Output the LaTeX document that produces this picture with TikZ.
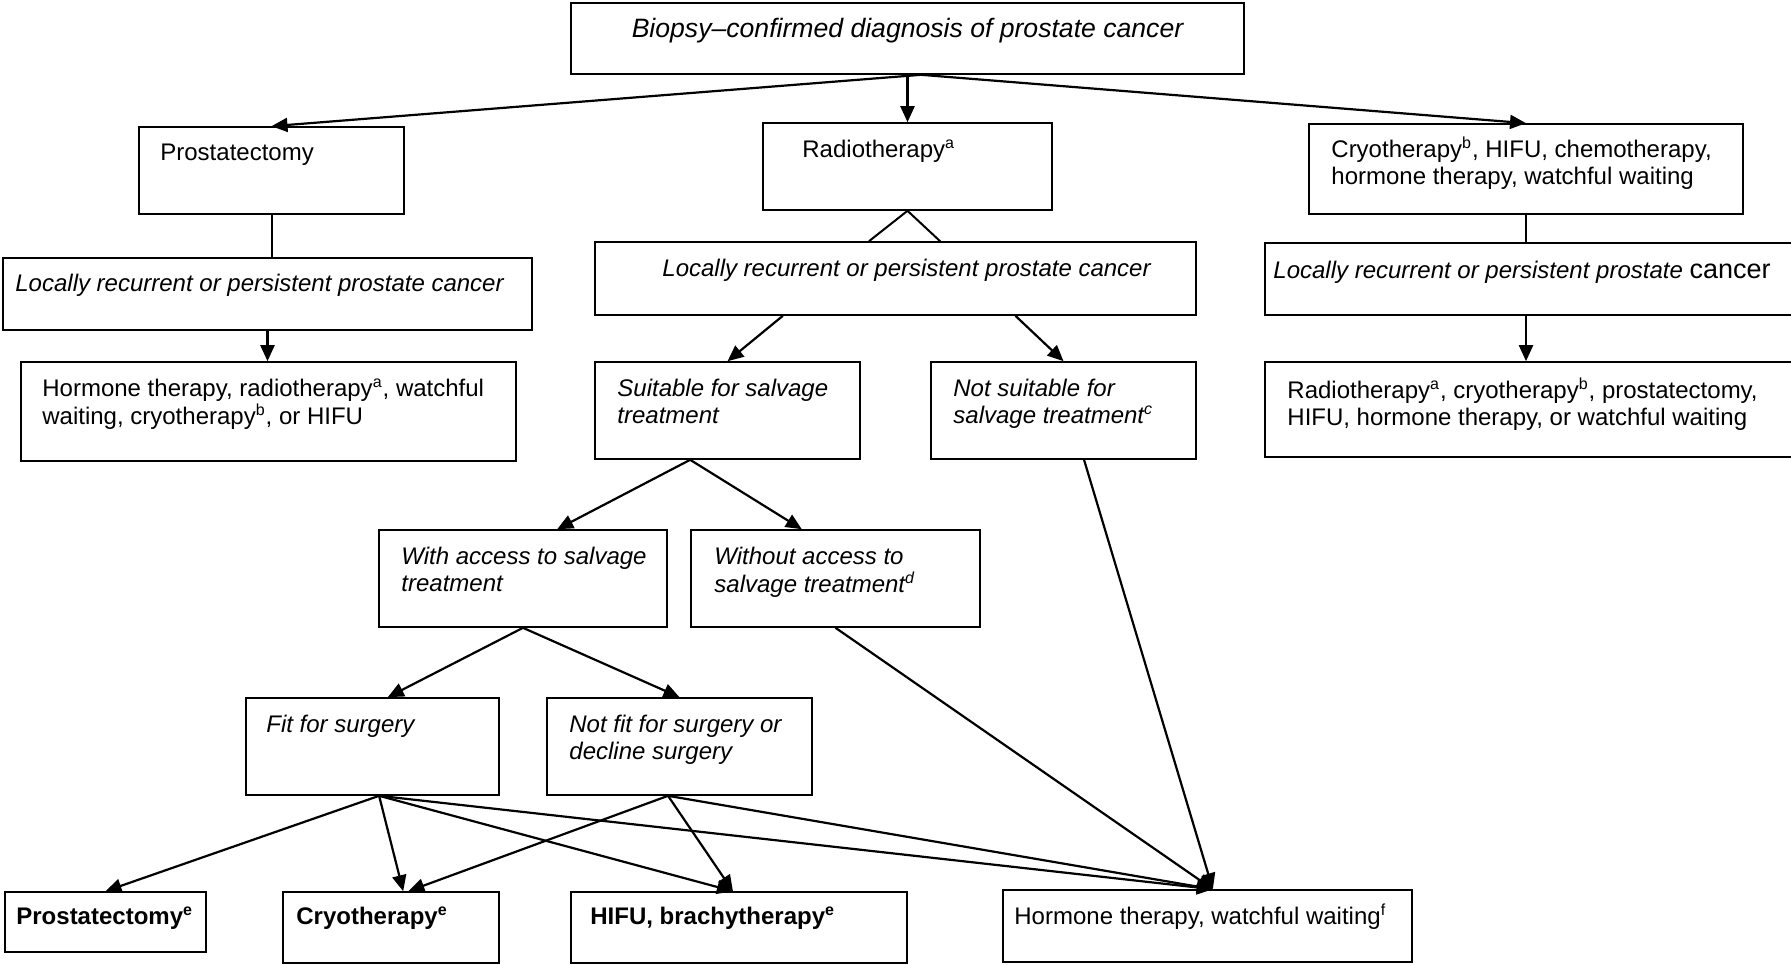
\documentclass[tikz,border=0pt]{standalone}
\usepackage{fontspec}
\setmainfont{Liberation Sans}
\usetikzlibrary{arrows.meta,calc,fit}

% two stacked lines whose baseline is the first line's
\newcommand\twoln[2]{\begin{tabular}[t]{@{}l@{}}#1\\#2\end{tabular}}

\begin{document}
\begin{tikzpicture}[x=0.5pt,y=-0.5pt,
  every node/.style={font=\fontsize{12}{13.8}\selectfont},
  box/.style={draw,line width=0.8pt,inner sep=0pt,rectangle},
  txt/.style={inner sep=0pt,anchor=base west},
  it/.style={font=\fontsize{12}{13.8}\selectfont\itshape},
  bf/.style={font=\fontsize{12}{13.8}\selectfont\bfseries},
  ln/.style={line width=1pt},
  arr/.style={line width=1.1pt,-{Triangle[length=8pt,width=7pt]}}]

\useasboundingbox (0,0) rectangle (1791,964);
\clip (0,0) rectangle (1791,964);

% ---- boxes ----
\node[box,fit={(571,3)(1244,74)}]      (T)   {};
\node[box,fit={(763,123)(1052,210)}]   (R)   {};
\node[box,fit={(139,127)(404,214)}]    (P)   {};
\node[box,fit={(1309,124)(1743,214)}]  (C)   {};
\node[box,fit={(3,258)(532,330)}]      (LL)  {};
\node[box,fit={(595,242)(1196,315)}]   (LM)  {};
\node[box,fit={(1265,243)(1800,315)}]  (LR)  {};
\node[box,fit={(21,362)(516,461)}]     (H1)  {};
\node[box,fit={(595,362)(860,459)}]    (S)   {};
\node[box,fit={(931,362)(1196,459)}]   (N)   {};
\node[box,fit={(1265,362)(1800,457)}]  (RR)  {};
\node[box,fit={(379,530)(667,627)}]    (W)   {};
\node[box,fit={(691,530)(980,627)}]    (Wo)  {};
\node[box,fit={(246,698)(499,795)}]    (Fit) {};
\node[box,fit={(547,698)(812,795)}]    (NF)  {};
\node[box,fit={(5,892)(206,952)}]      (PB)  {};
\node[box,fit={(283,892)(499,963)}]    (CB)  {};
\node[box,fit={(571,892)(907,963)}]    (HB)  {};
\node[box,fit={(1003,890)(1412,962)}]  (HT)  {};

% ---- texts ----
\node[inner sep=0pt,anchor=base,font=\fontsize{13.3}{15}\selectfont\itshape] (T-t) at (907.5,37)
  {Biopsy–confirmed diagnosis of prostate cancer};
\node[txt] (R-t) at (802,157) {Radiotherapy\textsuperscript{a}};
\node[txt] (P-t) at (160,160) {Prostatectomy};
\node[txt] (C-t) at (1331,157)
  {\twoln{Cryotherapy\textsuperscript{b}, HIFU, chemotherapy,}{hormone therapy, watchful waiting}};
\node[txt,it] (LL-t) at (15,291) {Locally recurrent or persistent prostate cancer};
\node[txt,it] (LM-t) at (662,276) {Locally recurrent or persistent prostate cancer};
\node[txt,it] (LR-t) at (1273,278)
  {Locally recurrent or persistent prostate {\upshape\fontsize{13.5}{15}\selectfont cancer}};
\node[txt] (H1-t) at (42,396)
  {\twoln{Hormone therapy, radiotherapy\textsuperscript{a}, watchful}{waiting, cryotherapy\textsuperscript{b}, or HIFU}};
\node[txt,it] (S-t) at (617,396) {\twoln{Suitable for salvage}{treatment}};
\node[txt,it] (N-t) at (953,396) {\twoln{Not suitable for}{salvage treatment\textsuperscript{c}}};
\node[txt] (RR-t) at (1287,398)
  {\twoln{Radiotherapy\textsuperscript{a}, cryotherapy\textsuperscript{b}, prostatectomy,}{HIFU, hormone therapy, or watchful waiting}};
\node[txt,it] (W-t) at (401,564) {\twoln{With access to salvage}{treatment}};
\node[txt,it] (Wo-t) at (714,564) {\twoln{Without access to}{salvage treatment\textsuperscript{d}}};
\node[txt,it] (Fit-t) at (266,732) {Fit for surgery};
\node[txt,it] (NF-t) at (569,732) {\twoln{Not fit for surgery or}{decline surgery}};
\node[txt,bf] (PB-t) at (16,924) {Prostatectomy\textsuperscript{e}};
\node[txt,bf] (CB-t) at (296,924) {Cryotherapy\textsuperscript{e}};
\node[txt,bf] (HB-t) at (590,924) {HIFU, brachytherapy\textsuperscript{e}};
\node[txt] (HT-t) at (1014,924) {Hormone therapy, watchful waiting\textsuperscript{f}};

% ---- connectors ----
% first split
\draw[arr] (T.south) -- (R.north);
\draw[arr] ($(T.south west)!0.52!(T.south east)$) -- (P.north);
\draw[arr] ($(T.south west)!0.52!(T.south east)$) -- (C.north);

% left branch
\draw[ln] (P.south) -- (P.south |- LL.north);
\draw[arr] (LL.south) -- (LL.south |- H1.north);

% right branch
\draw[ln] (C.south) -- (C.south |- LR.north);
\draw[arr] (C.south |- LR.south) -- (C.south |- RR.north);

% middle branch
\draw[ln] ($(LM.north west)!0.456!(LM.north east)$) -- (R.south)
          -- ($(LM.north west)!0.574!(LM.north east)$);
\draw[arr] ($(LM.south west)!0.313!(LM.south east)$) -- (S.north);
\draw[arr] ($(LM.south west)!0.699!(LM.south east)$) -- (N.north);

\draw[arr] ($(S.south west)!0.36!(S.south east)$) -- ($(W.north west)!0.618!(W.north east)$);
\draw[arr] ($(S.south west)!0.36!(S.south east)$) -- ($(Wo.north west)!0.384!(Wo.north east)$);

\draw[arr] (W.south) -- ($(Fit.north west)!0.56!(Fit.north east)$);
\draw[arr] (W.south) -- (NF.north);

% final treatments
\draw[arr] ($(Fit.south west)!0.526!(Fit.south east)$) -- (PB.north);
\draw[arr] ($(Fit.south west)!0.526!(Fit.south east)$) -- ($(CB.north west)!0.556!(CB.north east)$);
\draw[arr] ($(Fit.south west)!0.526!(Fit.south east)$) -- ($(HB.north west)!0.482!(HB.north east)$);
\draw[arr] ($(Fit.south west)!0.526!(Fit.south east)$) -- ($(HT.north west)!0.513!(HT.north east)$);

\draw[arr] ($(NF.south west)!0.457!(NF.south east)$) -- ($(CB.north west)!0.58!(CB.north east)$);
\draw[arr] ($(NF.south west)!0.457!(NF.south east)$) -- ($(HB.north west)!0.482!(HB.north east)$);
\draw[arr] ($(NF.south west)!0.457!(NF.south east)$) -- ($(HT.north west)!0.513!(HT.north east)$);

\draw[arr] ($(N.south west)!0.577!(N.south east)$) -- ($(HT.north west)!0.513!(HT.north east)$);
\draw[arr] (Wo.south) -- ($(HT.north west)!0.513!(HT.north east)$);
\end{tikzpicture}
\end{document}
